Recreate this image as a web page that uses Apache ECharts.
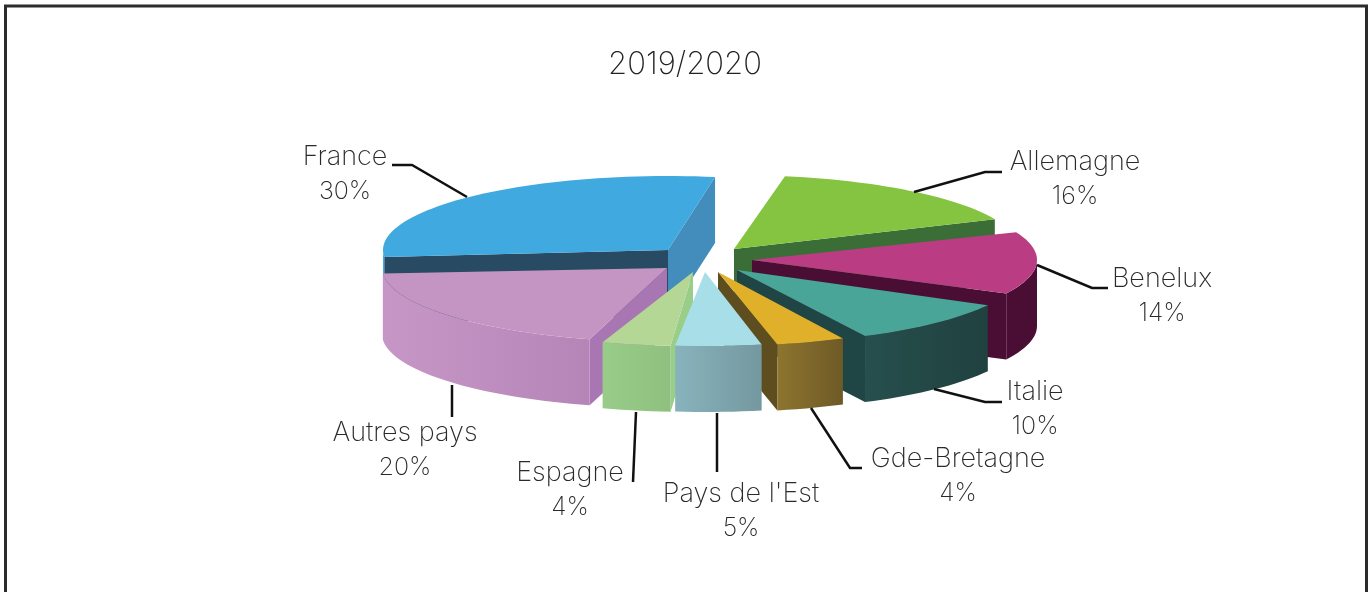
<!DOCTYPE html>
<html>
<head>
<meta charset="utf-8">
<title>2019/2020</title>
<style>
  html, body { margin: 0; padding: 0; background: #fff; }
  #chart { width: 1371px; height: 592px; }
</style>
<script src="https://cdn.jsdelivr.net/npm/echarts@6/dist/echarts.min.js"></script>
</head>
<body>
<div id="chart"></div>
<script>
// clockwise, starting from the top of the pie
const categories = ['Allemagne', 'Benelux', 'Italie', 'Gde-Bretagne', "Pays de l'Est", 'Espagne', 'Autres pays', 'France']
const values = [16, 14, 10, 4, 5, 4, 20, 30]

// back to front
const drawOrder = [7, 0, 1, 6, 2, 3, 5, 4]

const FONT = 'Inter, Lato, sans-serif'
const RX = 285
const RY = 74
const DEPTH = 66
const START_ANGLE = 10

// tip of each slice, and the small turn the exploded slices got in the drawing
const tips = [[734, 249], [752, 260], [737, 270], [718, 272], [705, 272], [693, 272], [667, 268], [668, 250]]
const turns = [0.3, 2, 3.5, 4.2, 4.75, 3.25, 0.5, -0.5]

const styles = [
  { top: '#85c440', wall: ['#3b6e36', '#3b6e36'], face: '#3b6e36' },
  { top: '#ba3d84', wall: ['#4a0d33', '#4a0d33'], face: '#4a0d33' },
  { top: '#49a597', wall: ['#264f4d', '#20413f'], face: '#1f4645' },
  { top: '#e1b02b', wall: ['#8d742f', '#6e5a26'], face: '#5e4d1e' },
  { top: '#a7dee8', wall: ['#88b3bd', '#74989f'], face: '#74989f' },
  { top: '#b5d795', wall: ['#99cc88', '#8fc07f'], face: '#98ce87' },
  { top: '#c495c2', wall: ['#c697c6', '#b585b8'], face: '#a876b3' },
  { top: '#3fa9e0', wall: ['#3fa9e0', '#3fa9e0'], face: '#284b63', face2: '#428dbb' }
]

// where the text goes and how the leader line runs
const labelPos = [[1075, 162], [1162, 279], [1035, 392], [958, 459], [741, 494], [570, 473], [405, 433], [345, 157]]
const leaders = [
  [[914, 192], [985, 172], [1002, 172]],
  [[1037, 265], [1092, 288], [1108, 288]],
  [[934, 389], [985, 402], [1002, 402]],
  [[811, 408], [850, 468], [862, 468]],
  [[717, 413], [717, 472]],
  [[636, 412], [633, 482]],
  [[452, 385], [452, 417]],
  [[467, 197], [412, 165], [392, 165]]
]

const total = values.reduce((a, b) => a + b, 0)

function sliceAngles (i) {
  let before = 0
  for (let k = 0; k < i; k++) before += values[k]
  const from = START_ANGLE + before / total * 360 + turns[i]
  return [from, from + values[i] / total * 360]
}

function rimPoint (tip, deg) {
  const a = deg * Math.PI / 180
  return [tip[0] + RX * Math.sin(a), tip[1] - RY * Math.cos(a)]
}

function arcPoints (tip, from, to) {
  const pts = []
  const steps = Math.max(2, Math.ceil((to - from) / 2))
  for (let s = 0; s <= steps; s++) {
    pts.push(rimPoint(tip, from + (to - from) * s / steps))
  }
  return pts
}

function lowered (pts) {
  return pts.map(p => [p[0], p[1] + DEPTH]).reverse()
}

// a radial side can be seen when the top of the slice lies above it
function faceVisible (tip, edge, other) {
  const ex = edge[0] - tip[0]
  const ey = edge[1] - tip[1]
  const cross = ex * (other[1] - tip[1]) - ey * (other[0] - tip[0])
  return ex > 0 ? cross < 0 : cross > 0
}

function labelText (text, x, y, size) {
  return {
    type: 'text',
    style: {
      text: text,
      x: x,
      y: y,
      align: 'center',
      verticalAlign: 'middle',
      fontFamily: FONT,
      fontWeight: 200,
      fontSize: size,
      fill: '#2a2a2a'
    }
  }
}

function renderSlice (params, api) {
  const i = api.value(0)
  const tip = tips[i]
  const st = styles[i]
  const angle = sliceAngles(i)
  const from = angle[0]
  const to = angle[1]
  const first = rimPoint(tip, from)
  const last = rimPoint(tip, to)
  const mid = rimPoint(tip, (from + to) / 2)
  const children = []

  if (faceVisible(tip, first, mid)) {
    children.push({
      type: 'polygon',
      shape: { points: [tip, first].concat(lowered([tip, first])) },
      style: { fill: st.face }
    })
  }
  if (faceVisible(tip, last, mid)) {
    children.push({
      type: 'polygon',
      shape: { points: [tip, last].concat(lowered([tip, last])) },
      style: { fill: st.face2 || st.face }
    })
  }

  // outer wall, only the front half of the rim shows
  const wallFrom = Math.max(from, 90)
  const wallTo = Math.min(to, 270)
  if (wallTo > wallFrom) {
    const rim = arcPoints(tip, wallFrom, wallTo)
    children.push({
      type: 'polygon',
      shape: { points: rim.concat(lowered(rim)) },
      style: {
        fill: new echarts.graphic.LinearGradient(0, 0, 1, 0, [
          { offset: 0, color: st.wall[0] },
          { offset: 1, color: st.wall[1] }
        ])
      }
    })
  }

  children.push({
    type: 'polygon',
    shape: { points: [tip].concat(arcPoints(tip, from, to)) },
    style: { fill: st.top }
  })

  children.push({
    type: 'polyline',
    shape: { points: leaders[i] },
    style: { stroke: '#111', lineWidth: 2.5, fill: null }
  })
  children.push(labelText(categories[i], labelPos[i][0], labelPos[i][1], 27))
  children.push(labelText(api.value(1) + '%', labelPos[i][0], labelPos[i][1] + 34, 25))
  return { type: 'group', children: children }
}

const chart = echarts.init(document.getElementById('chart'))
chart.setOption({
  animation: false,
  backgroundColor: '#fff',
  title: {
    text: '2019/2020',
    left: 680,
    top: 44,
    textAlign: 'center',
    textStyle: { color: '#222', fontFamily: FONT, fontWeight: 200, fontSize: 31 }
  },
  graphic: [{
    type: 'rect',
    silent: true,
    shape: { x: 5.5, y: 6, width: 1361, height: 620 },
    style: { fill: null, stroke: '#2b2b2b', lineWidth: 3 }
  }],
  series: [{
    type: 'custom',
    coordinateSystem: 'none',
    silent: true,
    renderItem: renderSlice,
    data: drawOrder.map(i => [i, values[i]])
  }]
})
</script>
</body>
</html>
